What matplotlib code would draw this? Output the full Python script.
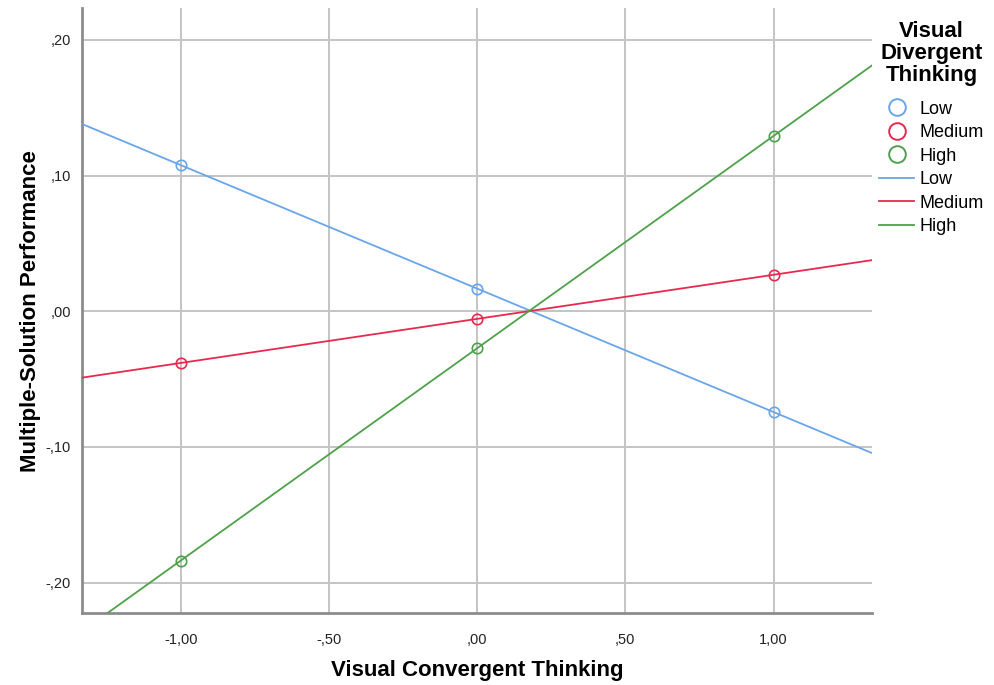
import numpy as np
import matplotlib
matplotlib.use("Agg")
import matplotlib.pyplot as plt
from matplotlib.lines import Line2D

plt.rcParams["font.family"] = ["Liberation Sans", "DejaVu Sans"]

# data
x_levels = [-1.0, 0.0, 1.0]
groups = ["Low", "Medium", "High"]
low_vals = [0.108, 0.016, -0.074]
medium_vals = [-0.038, -0.006, 0.027]
high_vals = [-0.184, -0.027, 0.129]
x_ticks = [-1.0, -0.5, 0.0, 0.5, 1.0]
x_ticklabels = ["-1,00", "-,50", ",00", ",50", "1,00"]
y_ticks = [-0.2, -0.1, 0.0, 0.1, 0.2]
y_ticklabels = ["-,20", "-,10", ",00", ",10", ",20"]

colors = {"Low": "#6aa5ea", "Medium": "#e8294f", "High": "#4ea14a"}
series = {"Low": low_vals, "Medium": medium_vals, "High": high_vals}

XLIM = (-1.333, 1.333)
YLIM = (-0.2225, 0.2233)

fig = plt.figure(figsize=(9.94, 6.85), dpi=100)
ax = fig.add_axes([0.0825, 0.105, 0.795, 0.883])

xx = np.array(XLIM)
for g in groups:
    k, b = np.polyfit(x_levels, series[g], 1)
    ax.plot(xx, k * xx + b, color=colors[g], lw=1.3, zorder=3)
    ax.plot(x_levels, series[g], ls="none", marker="o", ms=7.5, mfc="none",
            mec=colors[g], mew=1.2, zorder=4)

ax.set_xlim(*XLIM)
ax.set_ylim(*YLIM)
ax.set_xticks(x_ticks)
ax.set_xticklabels(x_ticklabels)
ax.set_yticks(y_ticks)
ax.set_yticklabels(y_ticklabels)
ax.grid(True, color="#c4c4c4", lw=1.4, zorder=0)
ax.set_axisbelow(True)
for s in ["top", "right"]:
    ax.spines[s].set_visible(False)
for s in ["left", "bottom"]:
    ax.spines[s].set_color("#8c8c8c")
    ax.spines[s].set_linewidth(2)
ax.tick_params(length=0, labelsize=10.5, pad=14, colors="#222222")
ax.tick_params(axis="y", pad=8)

ax.set_xlabel("Visual Convergent Thinking", fontsize=16, fontweight="bold", labelpad=10)
ax.set_ylabel("Multiple-Solution Performance", fontsize=16, fontweight="bold", labelpad=3)

handles = [Line2D([], [], ls="none", marker="o", ms=12, mfc="none",
                  mec=colors[g], mew=1.4) for g in groups]
handles += [Line2D([], [], color=colors[g], lw=1.3) for g in groups]
labels = groups + groups
leg = ax.legend(handles, labels, loc="upper left", bbox_to_anchor=(1.0, 0.99),
                frameon=False, fontsize=13, handlelength=1.9,
                handletextpad=0.3, labelspacing=0.36, borderaxespad=0.0,
                borderpad=0.4,
                title="Visual\nDivergent\nThinking",
                title_fontproperties={"weight": "bold", "size": 16})
leg.get_title().set_multialignment("center")
leg.get_title().set_linespacing(1.05)
leg._legend_box.align = "center"
leg._legend_box.sep = 10.5

fig.savefig("out.png", dpi=100)
